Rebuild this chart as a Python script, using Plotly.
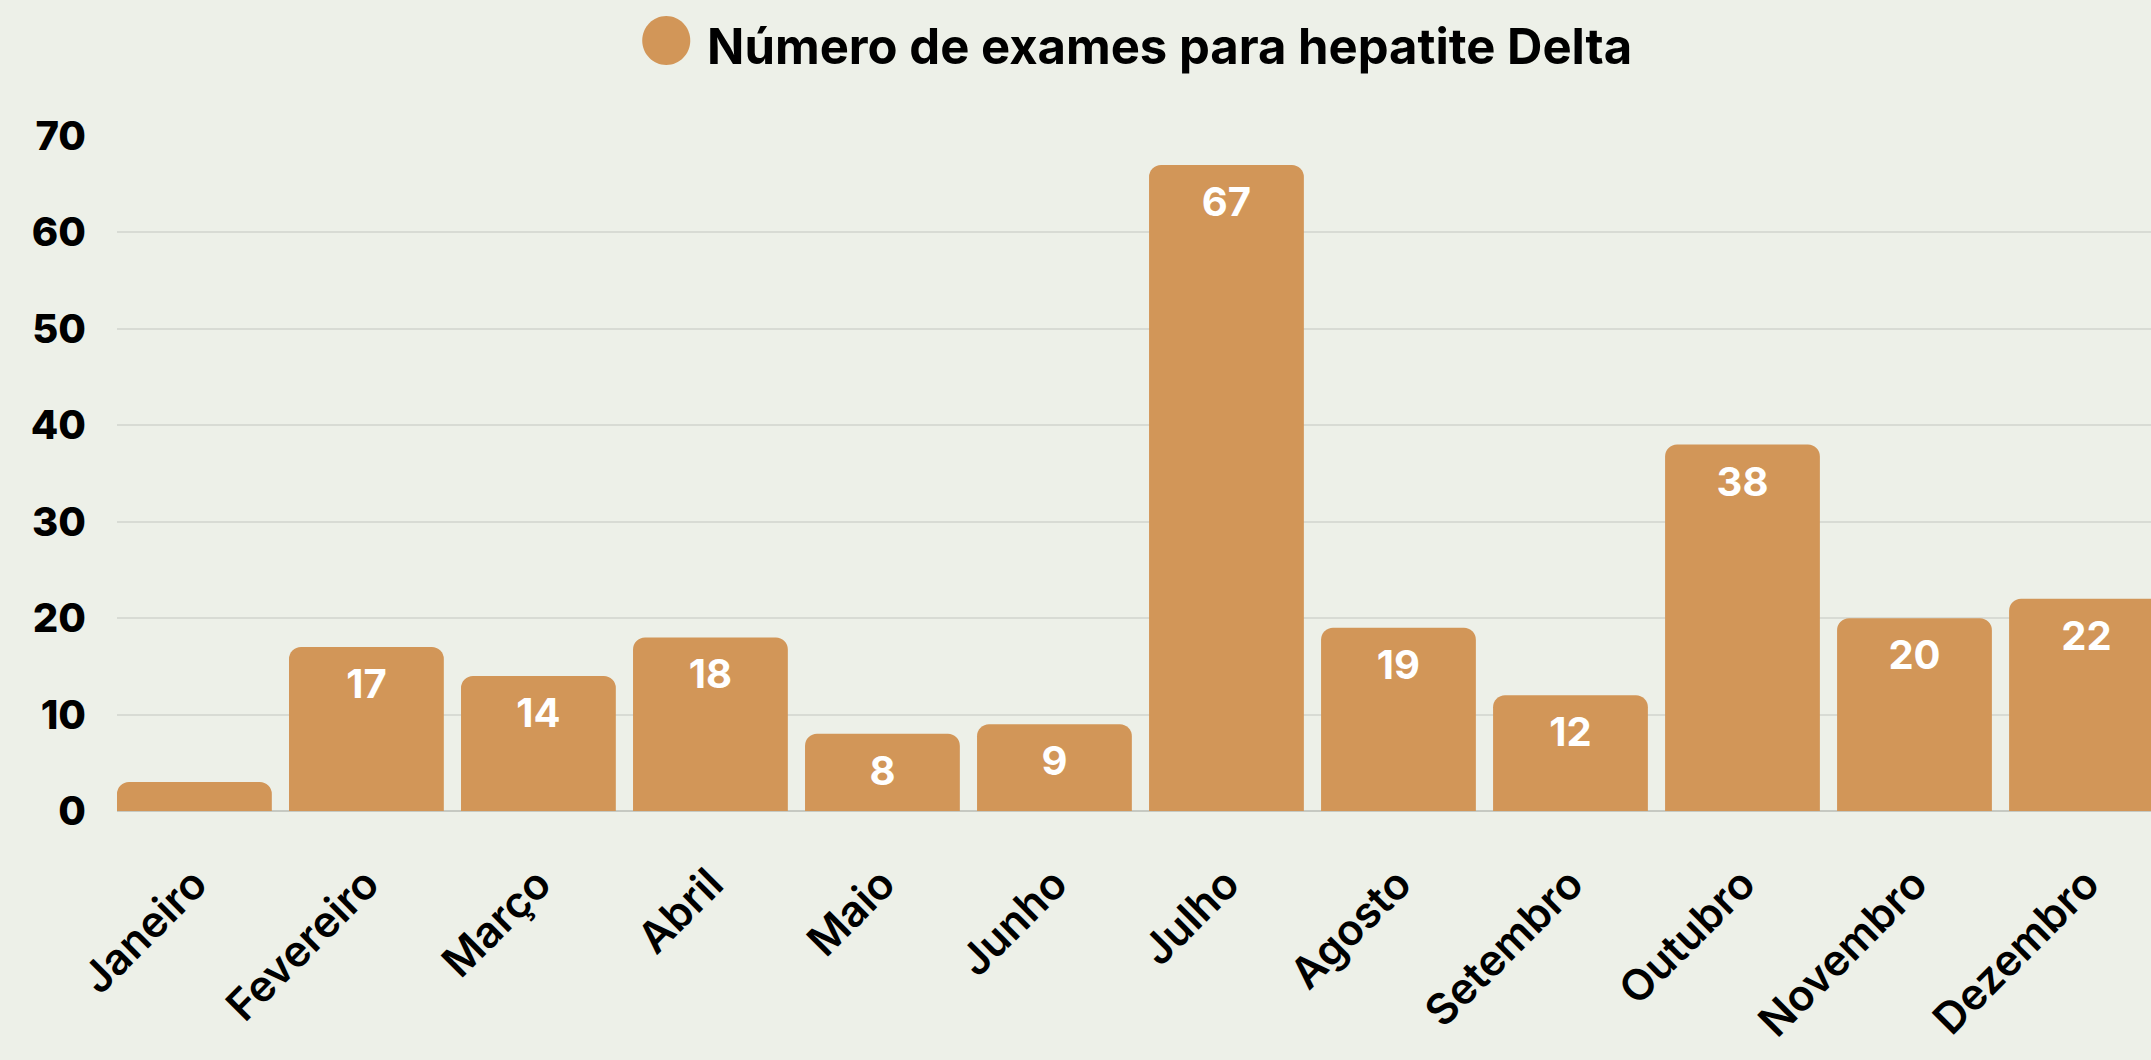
import plotly.graph_objects as go

# Dados
meses = ["Janeiro", "Fevereiro", "Março", "Abril", "Maio", "Junho",
         "Julho", "Agosto", "Setembro", "Outubro", "Novembro", "Dezembro"]
exames = [3, 17, 14, 18, 8, 9, 67, 19, 12, 38, 20, 22]
y_ticks = [0, 10, 20, 30, 40, 50, 60, 70]
legenda = "Número de exames para hepatite Delta"

cor_barra = "#D29658"
cor_fundo = "#EDF0E8"

fig = go.Figure()
fig.add_trace(go.Bar(
    x=meses,
    y=exames,
    text=exames,
    textposition="inside",
    insidetextanchor="end",
    textangle=0,
    textfont=dict(family="Inter", size=40, color="white", weight=700),
    marker=dict(color=cor_barra, cornerradius=12, line_width=0),
    name=legenda,
    showlegend=False,
))

# legenda no topo (circulo + texto)
fig.add_annotation(
    text="<span style='color:%s;font-size:64px'>●</span><b> %s</b>" % (cor_barra, legenda),
    xref="paper", yref="paper",
    x=0.5, y=1,
    yshift=96,
    xanchor="center", yanchor="middle",
    showarrow=False,
    font=dict(family="Inter", size=49, color="black"),
)

fig.update_layout(
    width=2151,
    height=1060,
    margin=dict(l=117, r=0, t=136, b=249),
    paper_bgcolor=cor_fundo,
    plot_bgcolor=cor_fundo,
    bargap=0.1,
    uniformtext=dict(minsize=30, mode="hide"),
)

fig.update_xaxes(
    range=[-0.45, 11.375],
    tickangle=-45,
    tickfont=dict(family="Inter", size=43, color="black", weight=600),
    ticklabelstandoff=38,
    automargin=False,
    showgrid=False,
    showline=False,
    zeroline=False,
)
fig.update_yaxes(
    range=[0, 70],
    tickvals=y_ticks,
    tickfont=dict(family="Inter", size=40, color="black", weight=800),
    ticklabelstandoff=30,
    automargin=False,
    showgrid=True,
    gridcolor="#D8DBD4",
    gridwidth=1.5,
    zeroline=True,
    zerolinecolor="#C6C9C2",
    zerolinewidth=2,
    showline=False,
)

fig.write_html("out.html", config={"displayModeBar": False},
               post_script="document.body.style.margin='0';")
